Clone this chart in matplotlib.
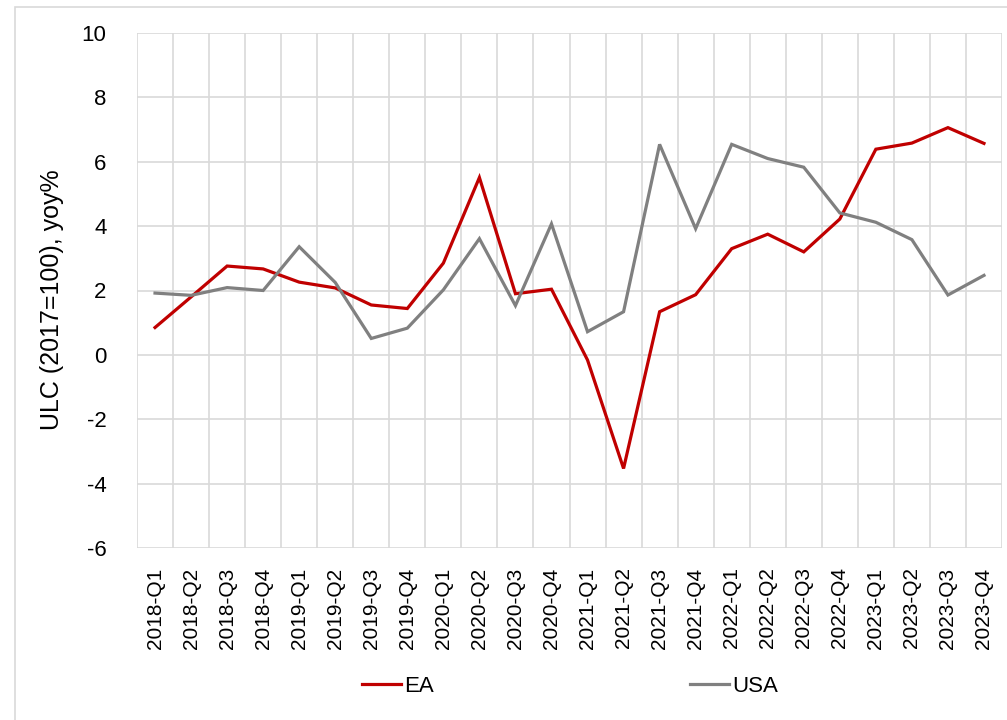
import numpy as np
import matplotlib
matplotlib.use("Agg")
import matplotlib.pyplot as plt
from matplotlib.patches import Rectangle

plt.rcParams['font.family'] = ['Liberation Sans', 'DejaVu Sans']

# 季度标签
quarters = [f"{y}-Q{q}" for y in range(2018, 2024) for q in range(1, 5)]

# ULC 同比（%）
ea = [0.85, 1.80, 2.76, 2.67, 2.26, 2.08, 1.55, 1.44, 2.85, 5.51, 1.90, 2.04,
      -0.16, -3.53, 1.34, 1.87, 3.30, 3.75, 3.20, 4.22, 6.39, 6.58, 7.06, 6.57]
usa = [1.92, 1.85, 2.09, 2.00, 3.36, 2.25, 0.51, 0.83, 2.02, 3.61, 1.53, 4.07,
       0.72, 1.34, 6.54, 3.92, 6.54, 6.10, 5.83, 4.41, 4.12, 3.58, 1.86, 2.47]

yticks = list(range(-6, 11, 2))

RED = "#C00000"
GREY = "#808080"
GRID = "#D9D9D9"

fig = plt.figure(figsize=(10.07, 7.2), dpi=100)
W, H = 1007, 720

# 外框（右、下边在画布外）
fig.patches.append(Rectangle((15 / W, -0.1), 1.2, 1.1 - 7 / H,
                             transform=fig.transFigure, fill=False,
                             edgecolor=GRID, linewidth=1.2))

ax = fig.add_axes([137 / W, 1 - 548 / H, (1002 - 137) / W, (548 - 33) / H])
x = np.arange(len(quarters))

ax.plot(x, ea, color=RED, lw=2.3, label="EA", solid_joinstyle="miter", zorder=3)
ax.plot(x, usa, color=GREY, lw=2.3, label="USA", solid_joinstyle="miter", zorder=3)

ax.set_xlim(-0.5, len(quarters) - 0.5)
ax.set_ylim(-6, 10)
ax.set_yticks(yticks)
ax.set_yticklabels([str(v) for v in yticks], fontsize=16)
ax.set_xticks(x)
ax.set_xticklabels(quarters, rotation=90, fontsize=15)
ax.set_xticks(np.arange(-0.5, len(quarters)), minor=True)
ax.tick_params(axis="both", which="both", length=0)
ax.tick_params(axis="y", pad=22)
ax.tick_params(axis="x", pad=14)

ax.grid(True, axis="y", which="major", color=GRID, lw=1.2)
ax.grid(True, axis="x", which="minor", color=GRID, lw=1.2)
ax.grid(False, axis="x", which="major")
ax.set_axisbelow(True)
for s in ax.spines.values():
    s.set_visible(False)

ax.set_ylabel("ULC (2017=100), yoy%", fontsize=18, va="center")
ax.yaxis.set_label_coords((52 - 137) / 865, 0.483)

fig.legend(loc="center", bbox_to_anchor=(570 / W, 1 - 686 / H), ncol=2,
           frameon=False, fontsize=16, handlelength=1.75, handletextpad=0.15,
           columnspacing=11.5)

fig.savefig("out.png", dpi=100, facecolor="white")
